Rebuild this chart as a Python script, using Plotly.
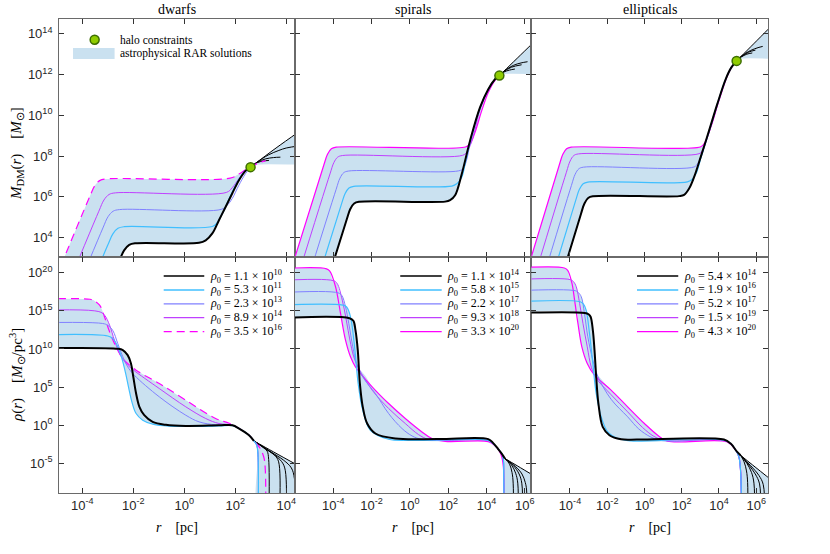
import plotly.graph_objects as go

W, H = 830, 554

# ---- axes (log10 limits) ----
x_ranges = [[-4.91, 4.34], [-6.0, 6.34], [-6.07, 6.63]]
y_ranges = [[3.04, 14.71], [-8.93, 22.02]]
x_ticks = [[-4, -2, 0, 2, 4], [-4, -2, 0, 2, 4, 6], [-4, -2, 0, 2, 4, 6]]
y_ticks = [[4, 6, 8, 10, 12, 14], [-5, 0, 5, 10, 15, 20]]
titles = ["dwarfs", "spirals", "ellipticals"]

# legend texts
dw_rho0 = ["1.1 × 10<sup>10</sup>", "5.3 × 10<sup>11</sup>", "2.3 × 10<sup>13</sup>",
           "8.9 × 10<sup>14</sup>", "3.5 × 10<sup>16</sup>"]
sp_rho0 = ["1.1 × 10<sup>14</sup>", "5.8 × 10<sup>15</sup>", "2.2 × 10<sup>17</sup>",
           "9.3 × 10<sup>18</sup>", "3.3 × 10<sup>20</sup>"]
el_rho0 = ["5.4 × 10<sup>14</sup>", "1.9 × 10<sup>16</sup>", "5.2 × 10<sup>17</sup>",
           "1.5 × 10<sup>19</sup>", "4.3 × 10<sup>20</sup>"]

# halo constraints (log10 r, log10 M)
halo_lr = [2.6, 4.67, 4.95]
halo_lm = [7.46, 11.95, 12.67]

# ---- curves as (log10 r, log10 value) ----
# dwarfs, mass
dm_black = [(-4.26, -2.27), (-2.56, 2.83), (-2.36, 3.38), (-2.16, 3.65), (-1.91, 3.73), (0.58, 3.75),
            (0.84, 3.87), (1.1, 4.21), (1.36, 4.86), (1.62, 5.51), (1.88, 6.17), (2.14, 6.81), (2.4, 7.28), (2.6, 7.46)]
dm_cyan = [(-4.7, -1.46), (-3.0, 3.64), (-2.8, 4.19), (-2.6, 4.46), (-2.35, 4.54), (1.1, 4.55), (1.3, 4.75),
           (1.56, 5.35), (1.82, 6.08), (2.08, 6.73), (2.34, 7.22), (2.6, 7.46)]
dm_blue = [(-4.89, -0.62), (-3.19, 4.48), (-2.99, 5.03), (-2.79, 5.3), (-2.54, 5.38), (1.45, 5.39), (1.69, 5.6),
           (1.88, 5.92), (2.14, 6.57), (2.4, 7.14), (2.6, 7.46)]
dm_violet = [(-5.05, 0.2), (-3.35, 5.3), (-3.15, 5.85), (-2.95, 6.12), (-2.7, 6.2), (1.65, 6.22), (1.88, 6.45),
             (2.14, 6.9), (2.4, 7.3), (2.6, 7.46)]
dm_magenta = [(-5.42, 0.88), (-3.72, 5.98), (-3.52, 6.53), (-3.32, 6.8), (-3.07, 6.88), (1.8, 6.92), (2.14, 7.12),
              (2.4, 7.33), (2.6, 7.46), (2.9, 7.66), (3.19, 7.78)]
dm_t1 = [(2.6, 7.46), (2.86, 7.71), (3.6, 8.4), (4.5, 9.2)]
dm_t2 = [(2.6, 7.46), (2.86, 7.71), (3.3, 8.06), (3.71, 8.28), (4.0, 8.4), (4.5, 8.5)]
dm_t3 = [(2.6, 7.46), (2.86, 7.7), (3.2, 7.87), (3.5, 7.93), (3.77, 7.95)]
dm_t4 = [(2.6, 7.46), (2.86, 7.68), (3.1, 7.76), (3.32, 7.79)]
dm_lo = dm_black + [(2.8, 7.58), (4.5, 7.58)]
dm_hi = dm_magenta[:9] + dm_t1[1:]

# dwarfs, density
dr_black = [(-7, 10.04), (-2.6, 10.02), (-2.41, 9.85), (-2.22, 9.19), (-2.09, 8.1), (-2.0, 6.35), (-1.89, 4.16),
            (-1.76, 2.41), (-1.57, 1.31), (-1.24, 0.44), (-0.72, 0.05), (0.06, -0.1), (1.36, -0.02), (1.89, 0.0),
            (2.15, -0.44), (2.54, -1.31), (2.73, -2.06)]
dr_cyan = [(-7, 11.72), (-3.0, 11.7), (-2.8, 11.35), (-2.62, 10.4), (-2.45, 8.8), (-2.3, 6.8), (-2.18, 4.9),
           (-2.05, 3.0), (-1.89, 1.53), (-1.63, 0.66), (-1.2, 0.1), (-0.6, -0.12), (1.36, -0.1), (1.89, -0.05),
           (2.15, -0.44), (2.54, -1.31), (2.73, -2.06), (2.84, -2.6), (2.89, -3.8), (2.9, -12)]
dr_blue = [(-7, 13.36), (-3.2, 13.34), (-3.0, 13.1), (-2.8, 12.4), (-2.61, 10.72), (-2.41, 8.97), (-2.22, 7.66),
           (-1.96, 6.56), (-0.98, 3.72), (0.06, 1.31), (0.58, 0.44), (1.23, 0.05), (1.89, 0.0), (2.15, -0.44),
           (2.54, -1.31), (2.73, -2.06), (2.84, -2.6), (2.89, -3.8), (2.9, -12)]
dr_violet = [(-7, 14.92), (-3.35, 14.9), (-3.13, 14.44), (-2.93, 13.13), (-2.74, 11.16), (-2.54, 9.41),
             (-2.28, 8.1), (-2.02, 7.3), (-0.98, 4.81), (0.06, 2.41), (0.84, 0.88), (1.36, 0.22), (1.89, 0.02),
             (2.15, -0.44), (2.54, -1.31), (2.73, -2.06), (2.84, -2.6), (2.89, -3.8), (2.9, -12)]
dr_magenta = [(-7, 16.54), (-3.7, 16.52), (-3.58, 16.41), (-3.32, 15.75), (-3.13, 14.22), (-3.0, 12.91),
              (-2.8, 11.16), (-2.61, 9.85), (-2.41, 8.75), (-1.89, 7.22), (-0.98, 5.47), (0.06, 3.28), (1.23, 0.88),
              (1.76, 0.25), (2.15, -0.44), (2.54, -1.31), (2.73, -2.06), (2.95, -2.9), (3.12, -4.2), (3.18, -6.0),
              (3.19, -12)]
dr_t1 = [(2.73, -2.06), (3.5, -3.5), (4.5, -5.35)]
dr_t2 = [(2.73, -2.06), (3.4, -3.5), (3.9, -4.6), (4.2, -5.6), (4.32, -7.0), (4.36, -12)]
dr_t3 = [(2.73, -2.06), (3.3, -3.35), (3.75, -4.5), (3.94, -5.6), (3.99, -12)]
dr_t4 = [(2.73, -2.06), (3.2, -3.1), (3.55, -3.95), (3.7, -4.8), (3.73, -12)]
dr_t5 = [(2.73, -2.06), (3.1, -2.95), (3.25, -3.4), (3.31, -4.5), (3.32, -12)]
dr_hi = [(-7, 16.54), (-3.7, 16.52), (-3.58, 16.41), (-3.32, 15.75), (-3.15, 14.5), (-2.93, 13.13), (-2.74, 11.16),
         (-2.62, 10.1), (-2.41, 9.85), (-2.22, 9.19), (-2.1, 8.1), (-2.03, 7.5), (-1.89, 7.22), (-0.98, 5.47),
         (0.06, 3.28), (1.23, 0.88), (1.76, 0.25), (2.15, -0.44), (2.54, -1.31), (2.73, -2.06), (3.5, -3.5),
         (4.5, -5.35)]
dr_lo = [(-7, 10.04), (-2.62, 10.02), (-2.55, 9.9), (-2.45, 8.8), (-2.3, 6.8), (-2.18, 4.9), (-2.05, 3.0),
         (-1.89, 1.53), (-1.63, 0.66), (-1.2, 0.1), (-0.6, -0.12), (1.36, -0.1), (1.89, -0.05), (2.15, -0.44),
         (2.54, -1.31), (2.73, -2.06), (2.84, -2.6), (2.89, -3.8), (2.9, -12), (4.5, -12)]

# spirals, mass
sm_black = [(-5.01, -0.24), (-3.31, 4.86), (-3.11, 5.41), (-2.91, 5.68), (-2.66, 5.76), (1.84, 5.77), (2.1, 5.84),
            (2.36, 6.08), (2.71, 7.14), (3.14, 8.76), (3.66, 10.39), (4.09, 11.28), (4.44, 11.77), (4.67, 11.95)]
sm_cyan = [(-5.28, 0.52), (-3.58, 5.62), (-3.38, 6.17), (-3.18, 6.44), (-2.93, 6.52), (2.19, 6.53), (2.45, 6.65),
           (2.7, 6.95), (2.9, 7.7), (3.14, 8.7), (3.66, 10.37), (4.09, 11.27), (4.44, 11.77), (4.67, 11.95)]
sm_blue = [(-5.55, 1.27), (-3.85, 6.37), (-3.65, 6.92), (-3.45, 7.19), (-3.2, 7.27), (2.55, 7.28), (2.79, 7.4),
           (2.97, 7.85), (3.14, 8.6), (3.66, 10.36), (4.09, 11.27), (4.44, 11.77), (4.67, 11.95)]
sm_violet = [(-5.87, 2.03), (-4.17, 7.13), (-3.97, 7.68), (-3.77, 7.95), (-3.52, 8.03), (2.75, 8.04), (2.97, 8.2),
             (3.2, 8.65), (3.4, 9.3), (3.66, 10.3), (4.09, 11.22), (4.44, 11.75), (4.67, 11.95)]
sm_magenta = [(-6.2, 2.44), (-4.5, 7.54), (-4.3, 8.09), (-4.1, 8.36), (-3.85, 8.44), (2.9, 8.45), (3.14, 8.6),
              (3.4, 9.17), (3.75, 10.23), (4.09, 11.12), (4.44, 11.72), (4.67, 11.95)]
sm_t1 = [(4.67, 11.95), (4.9, 12.16), (5.6, 12.8), (6.5, 13.62)]
sm_t2 = [(4.67, 11.95), (4.9, 12.16), (5.4, 12.45), (5.8, 12.57), (6.14, 12.63)]
sm_t3 = [(4.67, 11.95), (4.9, 12.14), (5.3, 12.36), (5.83, 12.48)]
sm_t4 = [(4.67, 11.95), (4.9, 12.12), (5.2, 12.22), (5.48, 12.27)]
sm_lo = sm_black + [(4.85, 12.02), (6.6, 12.02)]
sm_hi = sm_magenta + sm_t1[1:]

# spirals, density
sr_black = [(-7, 14.04), (-3.15, 14.03), (-2.95, 13.7), (-2.84, 12.47), (-2.72, 9.85), (-2.61, 5.47), (-2.46, 2.41),
            (-2.23, 0.22), (-1.8, -1.09), (-0.76, -1.75), (1.5, -1.82), (4.09, -1.82), (4.35, -2.35), (4.6, -3.1),
            (4.8, -3.75), (4.96, -4.37)]
sr_cyan = [(-7, 15.75), (-3.5, 15.74), (-3.3, 15.5), (-3.1, 14.22), (-2.87, 9.85), (-2.7, 5.47), (-2.46, 1.97),
           (-2.06, -0.66), (-1.11, -1.84), (0.0, -2.0), (4.09, -2.0), (4.35, -2.45), (4.6, -3.1), (4.8, -3.75),
           (4.88, -4.6), (4.9, -6.8), (4.91, -12)]
sr_blue = [(-7, 17.37), (-3.75, 17.36), (-3.55, 17.0), (-3.36, 15.54), (-3.19, 13.35), (-2.98, 10.28), (-2.79, 8.1),
           (-2.41, 6.13), (-1.8, 4.16), (-1.11, 1.53), (-0.41, -0.44), (0.11, -1.4), (0.63, -1.88), (1.5, -2.0),
           (4.09, -2.0), (4.35, -2.45), (4.6, -3.1), (4.8, -3.75), (4.88, -4.6), (4.9, -6.8), (4.91, -12)]
sr_violet = [(-7, 18.97), (-4.0, 18.96), (-3.8, 18.6), (-3.53, 16.41), (-3.32, 13.79), (-3.13, 11.16),
             (-2.93, 8.97), (-2.67, 7.44), (-1.97, 4.6), (-1.11, 2.19), (-0.24, 0.22), (0.45, -1.23), (0.97, -1.88),
             (1.6, -2.02), (4.09, -2.02), (4.35, -2.45), (4.6, -3.1), (4.8, -3.75), (4.88, -4.6), (4.9, -6.8),
             (4.91, -12)]
sr_magenta = [(-7, 20.52), (-4.35, 20.51), (-4.18, 20.2), (-3.88, 18.16), (-3.62, 14.66), (-3.36, 11.16),
              (-3.1, 8.97), (-2.84, 7.66), (-1.97, 5.03), (-1.11, 2.84), (-0.24, 0.88), (0.63, -0.88), (1.15, -1.75),
              (1.84, -2.12), (4.09, -2.15), (4.4, -2.6), (4.65, -3.3), (4.8, -4.2), (4.88, -5.5), (4.91, -8),
              (4.92, -12)]
sr_t1 = [(4.96, -4.37), (5.6, -5.32), (6.6, -6.82)]
sr_t2 = [(4.96, -4.37), (5.5, -5.4), (5.85, -6.4), (6.02, -7.5), (6.09, -8.5), (6.1, -12)]
sr_t3 = [(4.96, -4.37), (5.4, -5.3), (5.7, -6.4), (5.84, -7.6), (5.88, -12)]
sr_t4 = [(4.96, -4.37), (5.3, -5.2), (5.52, -6.3), (5.63, -7.6), (5.65, -12)]
sr_t5 = [(4.96, -4.37), (5.2, -5.1), (5.33, -6.2), (5.39, -7.6), (5.4, -12)]
sr_hi = [(-7, 20.52), (-4.35, 20.51), (-4.18, 20.2), (-4.02, 18.97), (-3.8, 18.6), (-3.65, 17.37), (-3.55, 17.0),
         (-3.38, 15.75), (-3.3, 15.5), (-3.1, 14.22), (-3.05, 14.04), (-2.95, 13.7), (-2.84, 12.47), (-2.72, 9.85),
         (-2.67, 7.6), (-2.3, 6.4), (-1.97, 5.03), (-1.11, 2.84), (-0.24, 0.88), (0.63, -0.88), (1.15, -1.75),
         (1.5, -1.82), (4.09, -1.82), (4.35, -2.35), (4.6, -3.1), (4.8, -3.75), (4.96, -4.37), (5.6, -5.32),
         (6.6, -6.82)]
sr_lo = [(-7, 14.04), (-3.62, 14.03), (-3.5, 13.1), (-3.36, 11.16), (-3.1, 8.97), (-2.8, 7.55), (-2.7, 5.47),
         (-2.46, 1.97), (-2.06, -0.66), (-1.11, -1.84), (0.0, -2.0), (1.84, -2.12), (4.09, -2.15), (4.4, -2.6),
         (4.65, -3.3), (4.8, -4.2), (4.88, -5.5), (4.91, -8), (4.92, -12), (6.6, -12)]

# ellipticals, mass
em_black = [(-5.12, 0.03), (-3.42, 5.13), (-3.22, 5.68), (-3.02, 5.95), (-2.77, 6.03), (1.86, 6.04), (2.13, 6.1),
            (2.4, 6.41), (2.67, 6.98), (3.02, 7.95), (3.47, 9.25), (3.91, 10.55), (4.36, 11.77), (4.66, 12.34),
            (4.95, 12.67)]
em_cyan = [(-5.39, 0.73), (-3.69, 5.83), (-3.49, 6.38), (-3.29, 6.65), (-3.04, 6.73), (2.31, 6.74), (2.58, 6.88),
           (2.8, 7.2), (3.05, 7.98), (3.47, 9.24), (3.91, 10.55), (4.36, 11.77), (4.66, 12.34), (4.95, 12.67)]
em_blue = [(-5.62, 1.46), (-3.92, 6.56), (-3.72, 7.11), (-3.52, 7.38), (-3.27, 7.46), (2.67, 7.47), (2.85, 7.63),
           (3.05, 7.98), (3.25, 8.55), (3.47, 9.2), (3.91, 10.53), (4.36, 11.76), (4.66, 12.34), (4.95, 12.67)]
em_violet = [(-5.89, 2.11), (-4.19, 7.21), (-3.99, 7.76), (-3.79, 8.03), (-3.54, 8.11), (2.93, 8.12), (3.11, 8.28),
             (3.3, 8.7), (3.5, 9.25), (3.91, 10.5), (4.36, 11.75), (4.66, 12.33), (4.95, 12.67)]
em_magenta = [(-6.28, 2.44), (-4.58, 7.54), (-4.38, 8.09), (-4.18, 8.36), (-3.93, 8.44), (3.0, 8.45), (3.2, 8.6),
              (3.56, 9.41), (4.0, 10.72), (4.45, 11.93), (4.72, 12.42), (4.95, 12.67)]
em_t1 = [(4.95, 12.67), (5.2, 12.9), (5.9, 13.54), (6.75, 14.32)]
em_t2 = [(4.95, 12.67), (5.2, 12.9), (5.7, 13.18), (6.1, 13.32), (6.35, 13.38)]
em_t3 = [(4.95, 12.67), (5.2, 12.88), (5.6, 13.1), (5.96, 13.2)]
em_t4 = [(4.95, 12.67), (5.2, 12.86), (5.5, 13.0), (5.79, 13.06)]
em_lo = em_black + [(5.12, 12.77), (6.8, 12.77)]
em_hi = em_magenta + em_t1[1:]

# ellipticals, density
er_black = [(-7, 14.73), (-3.2, 14.72), (-3.0, 14.55), (-2.89, 14.22), (-2.77, 12.47), (-2.68, 9.85), (-2.59, 6.35),
            (-2.47, 2.84), (-2.24, -0.22), (-1.88, -1.31), (-1.25, -1.84), (-0.36, -1.88), (4.27, -1.88),
            (4.63, -2.41), (4.98, -3.5), (5.16, -3.94)]
er_cyan = [(-7, 16.2), (-3.45, 16.19), (-3.28, 15.9), (-3.13, 15.1), (-2.95, 12.04), (-2.77, 8.1), (-2.59, 4.16),
           (-2.32, 1.09), (-1.97, -0.88), (-1.43, -1.75), (-0.72, -2.06), (4.45, -2.1), (4.9, -3.28), (5.07, -4.16),
           (5.16, -5.9), (5.2, -8.97), (5.21, -12)]
er_blue = [(-7, 17.64), (-3.7, 17.63), (-3.55, 17.4), (-3.39, 16.85), (-3.22, 14.66), (-3.04, 11.6), (-2.77, 8.53),
           (-2.5, 6.4), (-1.79, 3.4), (-0.9, 1.1), (-0.3, -0.5), (0.3, -1.5), (0.8, -1.95), (1.5, -2.08),
           (4.45, -2.12), (4.9, -3.28), (5.07, -4.16), (5.16, -5.9), (5.2, -8.97), (5.21, -12)]
er_violet = [(-7, 19.1), (-3.98, 19.09), (-3.8, 18.8), (-3.66, 18.16), (-3.48, 15.97), (-3.3, 13.35),
             (-3.07, 10.28), (-2.85, 7.6), (-2.6, 6.2), (-1.79, 4.0), (-0.9, 1.75), (-0.1, -0.3), (0.5, -1.45),
             (1.0, -1.95), (1.6, -2.08), (4.45, -2.12), (4.9, -3.28), (5.07, -4.16), (5.16, -5.9), (5.2, -8.97),
             (5.21, -12)]
er_magenta = [(-7, 20.63), (-4.3, 20.62), (-4.12, 20.3), (-3.89, 18.6), (-3.75, 16.41), (-3.57, 13.35),
              (-3.36, 10.28), (-3.07, 8.1), (-2.68, 6.56), (-1.79, 4.6), (-0.9, 2.41), (0.0, 0.22), (0.71, -1.31),
              (1.24, -2.1), (4.45, -2.19), (4.9, -3.28), (5.07, -4.16), (5.16, -5.9), (5.2, -8.97), (5.21, -12)]
er_t1 = [(5.16, -3.94), (5.8, -5.2), (6.9, -7.35)]
er_t2 = [(5.16, -3.94), (5.7, -5.3), (6.15, -6.6), (6.38, -7.8), (6.45, -12)]
er_t3 = [(5.16, -3.94), (5.6, -5.2), (5.95, -6.4), (6.18, -7.7), (6.23, -12)]
er_t4 = [(5.16, -3.94), (5.5, -5.0), (5.75, -6.2), (5.88, -7.6), (5.91, -12)]
er_t5 = [(5.16, -3.94), (5.35, -4.8), (5.48, -6.0), (5.54, -7.5), (5.55, -12)]
er_hi = [(-7, 20.63), (-4.3, 20.62), (-4.12, 20.3), (-4.0, 19.1), (-3.8, 18.8), (-3.66, 18.16), (-3.6, 17.64),
         (-3.55, 17.4), (-3.39, 16.85), (-3.32, 16.2), (-3.28, 15.9), (-3.13, 15.1), (-3.05, 14.73), (-3.0, 14.55),
         (-2.89, 14.22), (-2.77, 12.47), (-2.68, 9.85), (-2.63, 7.0), (-2.3, 6.0), (-1.79, 4.6), (-0.9, 2.41),
         (0.0, 0.22), (0.71, -1.31), (1.15, -1.85), (1.5, -1.88), (4.27, -1.88), (4.63, -2.41), (4.98, -3.5),
         (5.16, -3.94), (5.8, -5.2), (6.9, -7.35)]
er_lo = [(-7, 14.73), (-3.64, 14.72), (-3.57, 13.35), (-3.36, 10.28), (-3.07, 8.1), (-2.85, 7.3), (-2.7, 6.6),
         (-2.59, 4.16), (-2.32, 1.09), (-1.97, -0.88), (-1.43, -1.75), (-0.72, -2.06), (1.24, -2.15), (4.45, -2.19),
         (4.9, -3.28), (5.07, -4.16), (5.16, -5.9), (5.2, -8.97), (5.22, -12), (6.9, -12)]

# ---- styles ----
FILL = "#cae1f0"
colors = ["#000000", "#40bfff", "#8080ff", "#bf40ff", "#ff00ff"]
widths = [2.0, 1.2, 1.0, 1.0, 1.2]

panels = [
    dict(lo=dm_lo, hi=dm_hi, curves=[dm_black, dm_cyan, dm_blue, dm_violet, dm_magenta],
         tails=[dm_t1, dm_t2, dm_t3, dm_t4], dashed=True),
    dict(lo=sm_lo, hi=sm_hi, curves=[sm_black, sm_cyan, sm_blue, sm_violet, sm_magenta],
         tails=[sm_t1, sm_t2, sm_t3, sm_t4], dashed=False),
    dict(lo=em_lo, hi=em_hi, curves=[em_black, em_cyan, em_blue, em_violet, em_magenta],
         tails=[em_t1, em_t2, em_t3, em_t4], dashed=False),
    dict(lo=dr_lo, hi=dr_hi, curves=[dr_black, dr_cyan, dr_blue, dr_violet, dr_magenta],
         tails=[dr_t1, dr_t2, dr_t3, dr_t4, dr_t5], dashed=True),
    dict(lo=sr_lo, hi=sr_hi, curves=[sr_black, sr_cyan, sr_blue, sr_violet, sr_magenta],
         tails=[sr_t1, sr_t2, sr_t3, sr_t4, sr_t5], dashed=False),
    dict(lo=er_lo, hi=er_hi, curves=[er_black, er_cyan, er_blue, er_violet, er_magenta],
         tails=[er_t1, er_t2, er_t3, er_t4, er_t5], dashed=False),
]


def xy(pts):
    return [10.0 ** a for a, b in pts], [10.0 ** b for a, b in pts]


def ax_ids(p):
    return ("x" if p == 1 else f"x{p}"), ("y" if p == 1 else f"y{p}")


fig = go.Figure()

for i, pan in enumerate(panels):
    p = i + 1
    xa, ya = ax_ids(p)
    common = dict(xaxis=xa, yaxis=ya, showlegend=False, hoverinfo="skip", mode="lines")
    # shaded band of solutions
    x, y = xy(pan["lo"])
    fig.add_trace(go.Scatter(x=x, y=y, line=dict(width=0, shape="spline", smoothing=0.7), **common))
    x, y = xy(pan["hi"])
    fig.add_trace(go.Scatter(x=x, y=y, fill="tonexty", fillcolor=FILL,
                             line=dict(width=0, shape="spline", smoothing=0.7), **common))
    for t in pan["tails"]:
        x, y = xy(t)
        fig.add_trace(go.Scatter(x=x, y=y, line=dict(color="black", width=1, shape="spline"), **common))
    for k in [4, 3, 2, 1, 0]:
        x, y = xy(pan["curves"][k])
        dash = "8px,5px" if (k == 4 and pan["dashed"]) else "solid"
        fig.add_trace(go.Scatter(x=x, y=y, line=dict(color=colors[k], width=widths[k], dash=dash, shape="spline"),
                                 **common))
    if i < 3:
        fig.add_trace(go.Scatter(x=[10.0 ** halo_lr[i]], y=[10.0 ** halo_lm[i]], mode="markers",
                                 marker=dict(size=9, color="#8fcc00", line=dict(color="#3d6e00", width=1.5)),
                                 xaxis=xa, yaxis=ya, showlegend=False, hoverinfo="skip"))

# ---- layout (pixel positions of the reference) ----
col_px = [(59.3, 296.0), (296.0, 533.3), (533.3, 770.7)]
row_px = [(19.3, 257.3), (257.3, 493.3)]
tick_font = dict(family="Liberation Sans, Arial, sans-serif", size=13, color="#262626")
serif = "Liberation Serif, Times New Roman, serif"


def P(px, py):
    return px / W, 1 - py / H


layout = dict(width=W, height=H, margin=dict(l=0, r=0, t=0, b=0), plot_bgcolor="white",
              paper_bgcolor="white", hovermode=False)
for r in range(2):
    for c in range(3):
        p = r * 3 + c + 1
        xa, ya = ax_ids(p)
        xkey = "xaxis" if p == 1 else f"xaxis{p}"
        ykey = "yaxis" if p == 1 else f"yaxis{p}"
        axcommon = dict(type="log", ticks="inside", ticklen=5, tickwidth=1, tickcolor="#333333",
                        showline=True, linecolor="#6a6a6a", linewidth=1, mirror="ticks",
                        showgrid=False, zeroline=False, tickfont=tick_font)
        xl, _ = P(col_px[c][0], 0)
        xr, _ = P(col_px[c][1], 0)
        _, yt = P(0, row_px[r][0])
        _, yb = P(0, row_px[r][1])
        layout[xkey] = dict(domain=[xl, xr], anchor=ya, range=x_ranges[c],
                            tickvals=[10.0 ** v for v in x_ticks[c]],
                            ticktext=[f"10<sup>{v}</sup>" for v in x_ticks[c]],
                            showticklabels=(r == 1), **axcommon)
        layout[ykey] = dict(domain=[yb, yt], anchor=xa, range=y_ranges[r],
                            tickvals=[10.0 ** v for v in y_ticks[r]],
                            ticktext=[f"10<sup>{v}</sup>" for v in y_ticks[r]],
                            showticklabels=(c == 0), ticklabelstandoff=3, **axcommon)

ann = []
shapes = []


def label(px, py, text, size, xanchor="center", angle=0):
    x, y = P(px, py)
    ann.append(dict(x=x, y=y, text=text, showarrow=False, xref="paper", yref="paper",
                    xanchor=xanchor, yanchor="middle", textangle=angle,
                    font=dict(family=serif, size=size, color="black")))


for c in range(3):
    cx = (col_px[c][0] + col_px[c][1]) / 2
    label(cx, 9, titles[c], 14)
    label(cx, 527, "<i>r</i>\u00a0\u00a0\u00a0\u00a0[pc]", 14)

label(17, 153, "<i>M</i><sub>DM</sub>(<i>r</i>)\u00a0\u00a0\u00a0\u00a0[<i>M</i><sub>⊙</sub>]", 15, angle=-90)
label(17, 375, "<i>ρ</i>(<i>r</i>)\u00a0\u00a0\u00a0\u00a0[<i>M</i><sub>⊙</sub>/pc<sup>3</sup>]", 15, angle=-90)

# legend of the top-left panel
x0, y0 = P(90.5, 35.2)
x1, y1 = P(99.5, 44.2)
shapes.append(dict(type="circle", xref="paper", yref="paper", x0=x0, y0=y1, x1=x1, y1=y0,
                   fillcolor="#8fcc00", line=dict(color="#3d6e00", width=1.5)))
x0, y0 = P(73.3, 48)
x1, y1 = P(115, 59)
shapes.append(dict(type="rect", xref="paper", yref="paper", x0=x0, y0=y1, x1=x1, y1=y0,
                   fillcolor=FILL, line=dict(width=0)))
label(118.3, 39.7, "halo constraints", 11.5, xanchor="left")
label(118.3, 53.5, "astrophysical RAR solutions", 11.5, xanchor="left")

# legends of the density panels
leg_line_x = [(164.3, 205.0), (401.7, 443.3), (639.3, 680.7)]
leg_text_x = [208.3, 447.0, 684.0]
leg_rows = [276.0, 289.9, 303.8, 317.7, 331.6]
for c, labels in enumerate([dw_rho0, sp_rho0, el_rho0]):
    for k, lab in enumerate(labels):
        py = leg_rows[k]
        x0, y0 = P(leg_line_x[c][0], py)
        x1, _ = P(leg_line_x[c][1], py)
        dash = "8px,5px" if (c == 0 and k == 4) else "solid"
        shapes.append(dict(type="line", xref="paper", yref="paper", x0=x0, y0=y0, x1=x1, y1=y0,
                           line=dict(color=colors[k], width=1.5 if k in (0, 1) else 1.2, dash=dash)))
        label(leg_text_x[c], py, f"<i>ρ</i><sub>0</sub> = {lab}", 12, xanchor="left")

layout["annotations"] = ann
layout["shapes"] = shapes
fig.update_layout(**layout)

# drop the browser's default 8 px page margin so the 830x554 figure fills the window
fig.write_html("out.html", config={"displayModeBar": False},
               post_script="document.body.style.margin = '0';")
